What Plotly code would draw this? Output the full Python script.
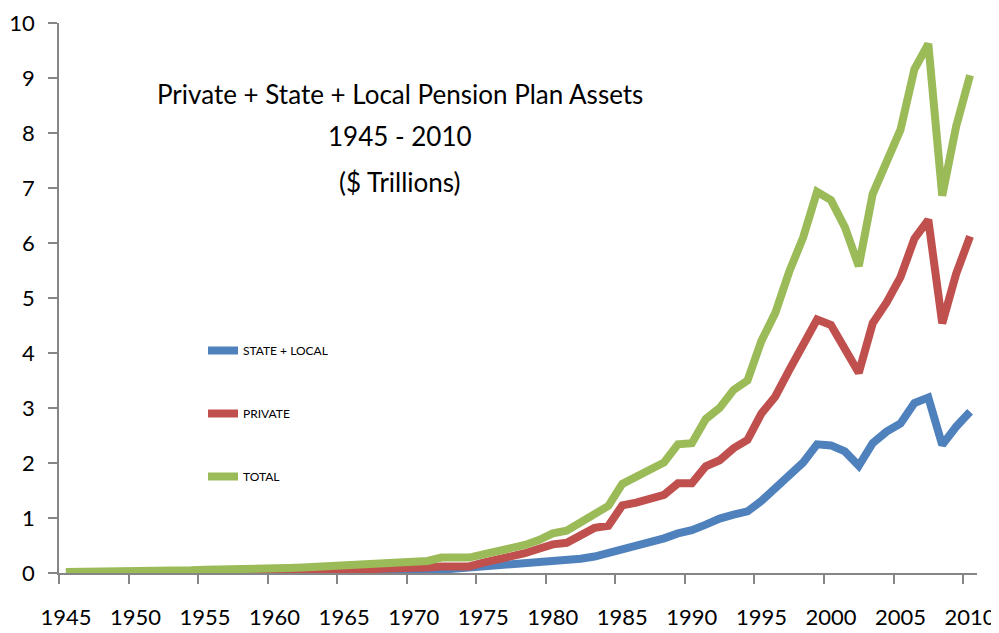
import plotly.graph_objects as go

years = list(range(1945, 2011))

state_local = [
    0.00, 0.00, 0.00, 0.00, 0.00, 0.00, 0.00, 0.00, 0.00, 0.00,
    0.01, 0.01, 0.01, 0.01, 0.01,
    0.01, 0.01, 0.01, 0.02, 0.02, 0.02, 0.02, 0.03, 0.03, 0.03,
    0.03, 0.04, 0.06, 0.06, 0.08, 0.09, 0.12, 0.14, 0.15, 0.17,
    0.19, 0.22, 0.26, 0.30, 0.36, 0.42, 0.50, 0.56, 0.63, 0.72,
    0.78, 0.88, 0.99, 1.06, 1.12, 1.31, 1.54, 1.79, 2.01, 2.34,
    2.32, 2.21, 1.95, 2.36, 2.57, 2.72, 3.09, 3.19, 2.33, 2.66, 2.93,
]

private = [
    0.00, 0.00, 0.00, 0.00, 0.01, 0.01, 0.01, 0.01, 0.01, 0.01,
    0.02, 0.02, 0.02, 0.02, 0.03,
    0.03, 0.03, 0.04, 0.04, 0.05, 0.06, 0.06, 0.07, 0.08, 0.08,
    0.09, 0.10, 0.12, 0.12, 0.12, 0.19, 0.24, 0.28, 0.36, 0.44,
    0.52, 0.55, 0.67, 0.82, 0.86, 1.23, 1.28, 1.34, 1.42, 1.63,
    1.63, 1.94, 2.05, 2.27, 2.42, 2.90, 3.21, 3.69, 4.14, 4.61,
    4.51, 4.08, 3.64, 4.54, 4.92, 5.38, 6.08, 6.42, 4.54, 5.44, 6.12,
]

total = [
    0.02, 0.02, 0.03, 0.03, 0.03, 0.04, 0.04, 0.04, 0.05, 0.05,
    0.06, 0.06, 0.07, 0.07, 0.08,
    0.09, 0.09, 0.10, 0.11, 0.12, 0.13, 0.14, 0.15, 0.17, 0.18,
    0.19, 0.22, 0.28, 0.28, 0.28, 0.34, 0.40, 0.43, 0.51, 0.60,
    0.72, 0.77, 0.92, 1.10, 1.22, 1.62, 1.76, 1.88, 2.01, 2.34,
    2.36, 2.80, 3.00, 3.33, 3.50, 4.22, 4.73, 5.48, 6.10, 6.93,
    6.78, 6.29, 5.58, 6.89, 7.45, 8.06, 9.16, 9.62, 6.86, 8.12, 9.05,
]

series_names = ["STATE + LOCAL", "PRIVATE", "TOTAL"]
series_colors = ["#4F81BD", "#C0504D", "#9BBB59"]

x_label_years = list(range(1945, 2011, 5))
y_ticks = list(range(0, 11))

title_lines = [
    "Private + State + Local Pension Plan Assets",
    "1945 - 2010",
    "($ Trillions)",
]

FONT = "Lato"

# The page body adds an 8px offset; the figure is sized to fit the 999x633 window.
PAGE_OFF = 8
PLOT_L, PLOT_R, PLOT_T, PLOT_B = 59, 977, 23, 573  # plot area in window pixels
FIG_W, FIG_H = 999 - PAGE_OFF, 633 - PAGE_OFF


def px_x(px):
    return (px - PLOT_L) / (PLOT_R - PLOT_L)


def px_y(py):
    return (PLOT_B - py) / (PLOT_B - PLOT_T)


fig = go.Figure()
for i, (name, vals, col) in enumerate(zip(series_names, [state_local, private, total], series_colors)):
    fig.add_trace(go.Scatter(
        x=years, y=vals, mode="lines", name=name,
        line=dict(color=col, width=8, shape="linear"),
        legendgroup=f"g{i}",
        hoverinfo="x+y+name",
    ))

fig.update_layout(
    width=FIG_W, height=FIG_H,
    margin=dict(l=PLOT_L - PAGE_OFF, r=FIG_W - (PLOT_R - PAGE_OFF),
                t=PLOT_T - PAGE_OFF, b=FIG_H - (PLOT_B - PAGE_OFF)),
    paper_bgcolor="white", plot_bgcolor="white",
    font=dict(family=FONT, color="black"),
    showlegend=True,
    legend=dict(
        x=px_x(203), y=px_y(336), xanchor="left", yanchor="top",
        bgcolor="rgba(0,0,0,0)", borderwidth=0,
        font=dict(family=FONT, size=12, color="black"),
        tracegroupgap=44, itemwidth=30,
    ),
)

fig.update_xaxes(
    range=[1944.5, 2010.5],
    tickvals=x_label_years,
    ticktext=[str(y) for y in x_label_years],
    ticks="",
    ticklabelstandoff=24,
    tickfont=dict(family=FONT, size=22, color="black"),
    showline=True, linecolor="#868686", linewidth=1.5,
    showgrid=False, zeroline=False, automargin=False,
    minor=dict(tick0=1944.5, dtick=5, ticks="outside", ticklen=9,
               tickcolor="#868686", tickwidth=1.5, showgrid=False),
)

fig.update_yaxes(
    range=[0, 10],
    tickvals=y_ticks,
    ticks="outside", ticklen=9, tickcolor="#868686", tickwidth=1.5,
    ticklabelstandoff=9,
    tickfont=dict(family=FONT, size=22, color="black"),
    showline=True, linecolor="#868686", linewidth=1.5,
    showgrid=False, zeroline=False, automargin=False,
)

title_y_px = [94, 136, 182]
title_sizes = [26, 26, 26]
for txt, ypx, sz in zip(title_lines, title_y_px, title_sizes):
    fig.add_annotation(
        text=txt, xref="paper", yref="paper",
        x=px_x(400), y=px_y(ypx),
        xanchor="center", yanchor="middle", showarrow=False,
        font=dict(family=FONT, size=sz, color="black"),
    )

fig.write_html("out.html")
